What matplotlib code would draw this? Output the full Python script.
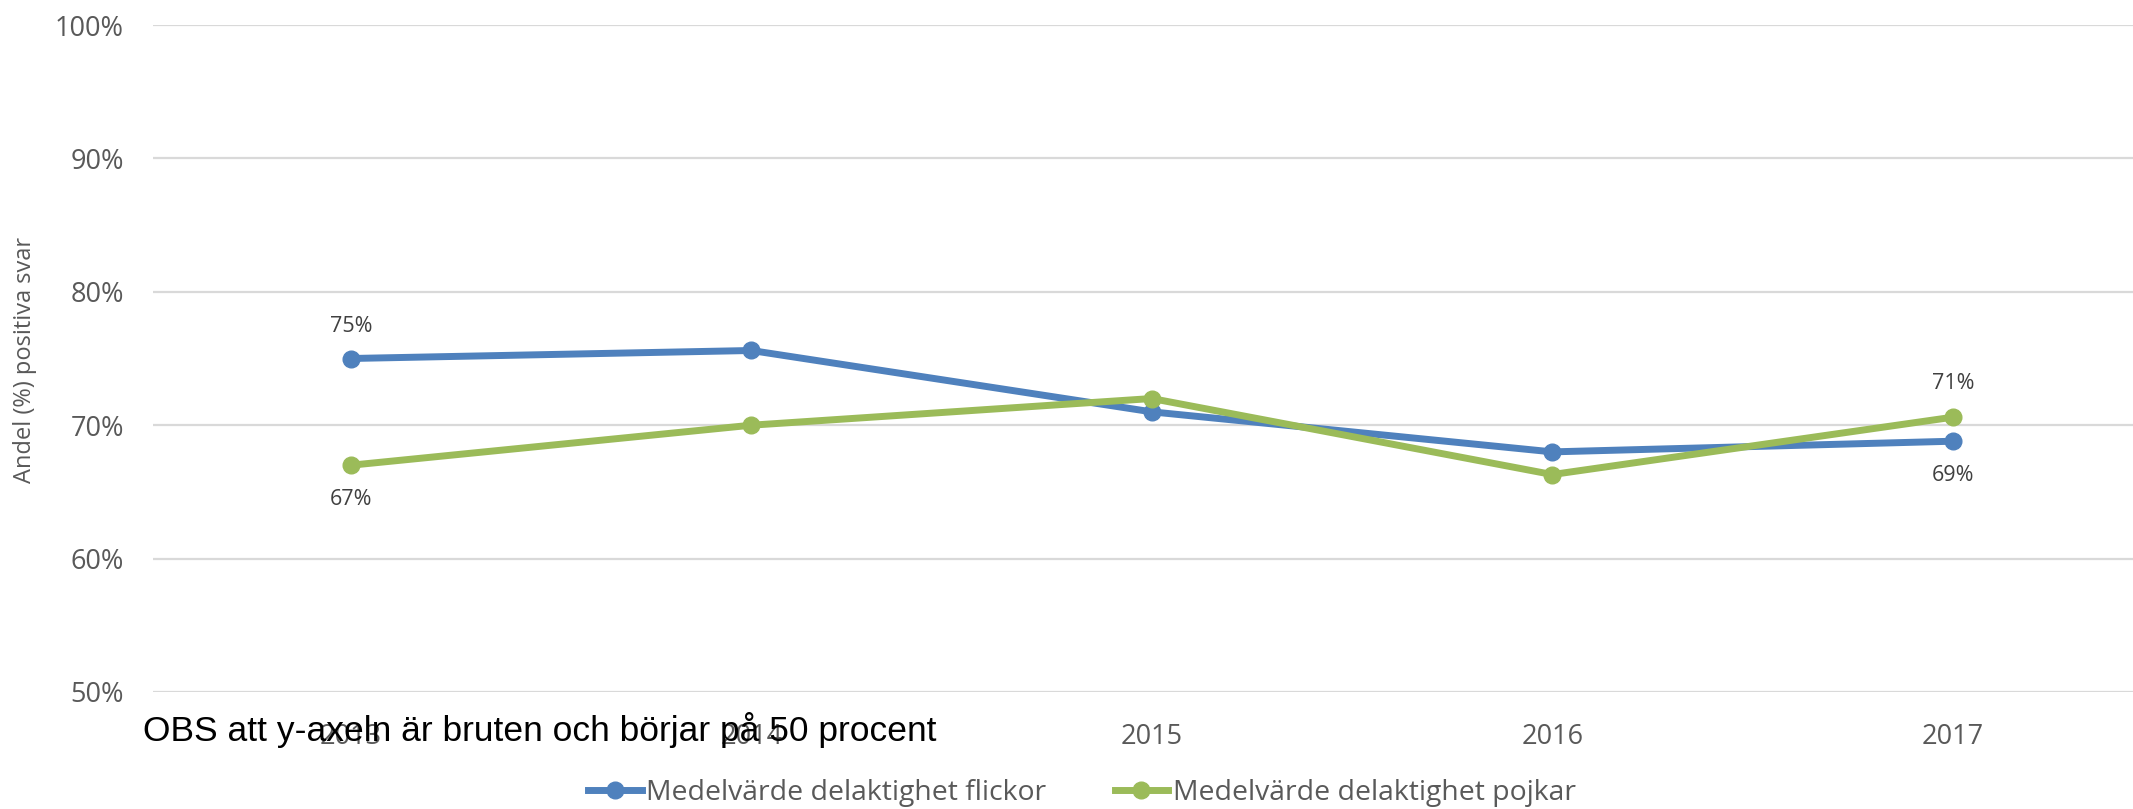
import matplotlib.pyplot as plt
import numpy as np

years = ["2013", "2014", "2015", "2016", "2017"]
flickor = [75.0, 75.6, 71.0, 68.0, 68.8]
pojkar = [67.0, 70.0, 72.0, 66.3, 70.6]
yticks = [50, 60, 70, 80, 90, 100]

blue = "#4F81BD"
green = "#9BBB59"
grey = "#595959"

plt.rcParams['font.family'] = ['Open Sans', 'DejaVu Sans']

fig = plt.figure(figsize=(21.33, 8.09), dpi=100)
ax = fig.add_axes([153/2133, 117/809, 1 - 153/2133, 667/809])

x = np.arange(len(years))
ax.plot(x, flickor, color=blue, lw=5, marker='o', ms=12,
        label="Medelvärde delaktighet flickor", zorder=3)
ax.plot(x, pojkar, color=green, lw=5, marker='o', ms=12,
        label="Medelvärde delaktighet pojkar", zorder=3)

# data labels only at first and last year
lab = dict(textcoords='offset points', ha='center', va='center',
           fontsize=15.5, color="#404040")
ax.annotate(f"{flickor[0]:.0f}%", (x[0], flickor[0]), xytext=(0, 23), **lab)
ax.annotate(f"{pojkar[0]:.0f}%", (x[0], pojkar[0]), xytext=(0, -25), **lab)
ax.annotate(f"{pojkar[-1]:.0f}%", (x[-1], pojkar[-1]), xytext=(0, 24), **lab)
ax.annotate(f"{flickor[-1]:.0f}%", (x[-1], flickor[-1]), xytext=(0, -25), **lab)

ax.set_xlim(-0.494, 4.45)
ax.set_ylim(50, 100)
ax.set_yticks(yticks)
ax.set_yticklabels([f"{v}%" for v in yticks])
ax.set_xticks(x)
ax.set_xticklabels(years)
ax.tick_params(axis='y', length=0, pad=21, labelsize=19.5, labelcolor=grey)
ax.tick_params(axis='x', length=0, pad=22, labelsize=19.5, labelcolor=grey)
ax.grid(axis='y', color="#D9D9D9", lw=1.6)
ax.set_axisbelow(True)
for s in ax.spines.values():
    s.set_visible(False)

fig.text(25/2133, 1 - 360/809, "Andel (%) positiva svar", rotation=90,
         ha='center', va='center', fontsize=17, color=grey)

fig.text(143/2133, 68/809, "OBS att y-axeln är bruten och börjar på 50 procent",
         fontsize=25.5, color="black", va='baseline',
         family=['Liberation Sans', 'DejaVu Sans'])

fig.legend(loc='center', bbox_to_anchor=(1082/2133, 16/809), ncol=2,
           frameon=False, fontsize=20.4, labelcolor=grey, handlelength=1.9,
           handletextpad=0.15, columnspacing=2.4)

fig.savefig("out.png", dpi=100)
